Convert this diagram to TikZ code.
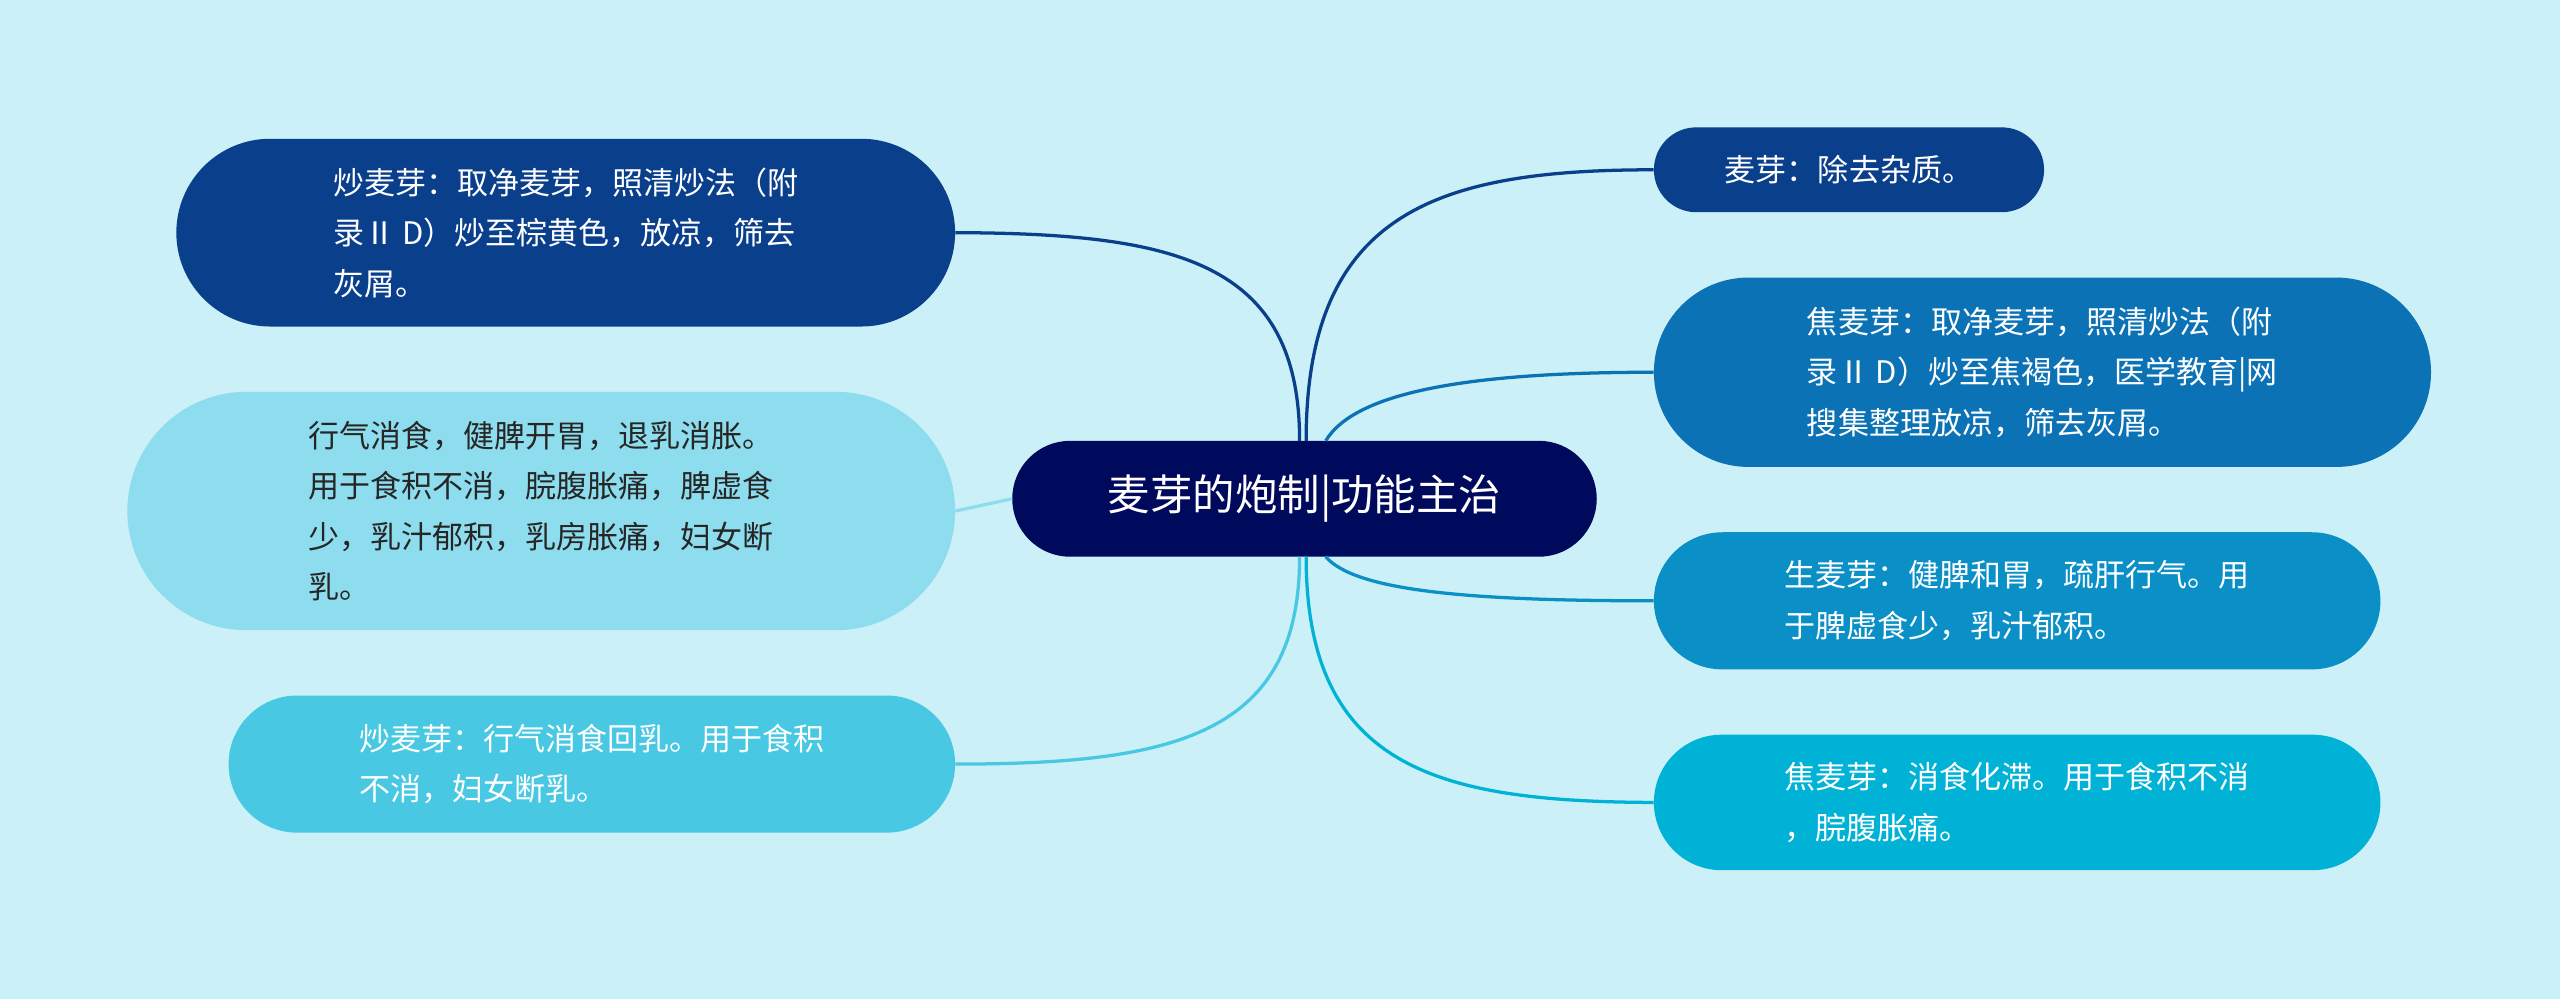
\documentclass[tikz,border=0pt]{standalone}
\usepackage{fontspec}
\setmainfont{Noto Sans CJK SC}
\usetikzlibrary{shapes.misc}
\definecolor{bg}{HTML}{CBF0F7}
\definecolor{cnavy}{HTML}{000A5C}
\definecolor{cdark}{HTML}{0A3F8C}
\definecolor{cmid}{HTML}{0B72B5}
\definecolor{cmid2}{HTML}{0A90C6}
\definecolor{ccyan}{HTML}{00B2D6}
\definecolor{clight}{HTML}{8EDDEE}
\definecolor{clight2}{HTML}{48C8E3}
\tikzset{
 pill/.style={rounded rectangle, inner sep=0pt, align=left, font=\fontsize{19pt}{31pt}\selectfont, text=white},
 link/.style={line width=2pt}
}
\begin{document}
\begin{tikzpicture}[x=1pt,y=-1pt]
\fill[bg] (0,0) rectangle (1568,612);
\useasboundingbox (0,0) rectangle (1568,612);
\node[pill, fill=cnavy, minimum width=358pt, minimum height=71pt, font=\fontsize{26pt}{30pt}\selectfont] (c) at (799,305.5) {麦芽的炮制|功能主治};
\node[pill, fill=cdark, minimum width=239pt, minimum height=52pt] (r1) at (1132.5,104) {麦芽：除去杂质。};
\node[pill, fill=cmid, minimum width=476pt, minimum height=116pt] (r2) at (1251,228) {焦麦芽：取净麦芽，照清炒法（附\\录Ⅱ D）炒至焦褐色，医学教育|网\\搜集整理放凉，筛去灰屑。};
\node[pill, fill=cmid2, minimum width=445pt, minimum height=84pt] (r3) at (1235.5,368) {生麦芽：健脾和胃，疏肝行气。用\\于脾虚食少，乳汁郁积。};
\node[pill, fill=ccyan, minimum width=445pt, minimum height=83pt] (r4) at (1235.5,491.5) {焦麦芽：消食化滞。用于食积不消\\，脘腹胀痛。};
\node[pill, fill=cdark, minimum width=477pt, minimum height=115pt] (l1) at (346.5,142.5) {炒麦芽：取净麦芽，照清炒法（附\\录Ⅱ D）炒至棕黄色，放凉，筛去\\灰屑。};
\node[pill, fill=clight, text=black!85, minimum width=507pt, minimum height=146pt] (l2) at (331.5,313) {行气消食，健脾开胃，退乳消胀。\\用于食积不消，脘腹胀痛，脾虚食\\少，乳汁郁积，乳房胀痛，妇女断\\乳。};
\node[pill, fill=clight2, minimum width=445pt, minimum height=84pt] (l3) at (362.5,468) {炒麦芽：行气消食回乳。用于食积\\不消，妇女断乳。};
\coordinate (ct1) at (800,270);
\coordinate (ct2) at (812,270);
\coordinate (cb1) at (800,341);
\coordinate (cb2) at (812,341);
\coordinate (ctl) at (796,270);
\coordinate (cbl) at (796,341);
\draw[link, cdark] (ct1) .. controls (800,130) and (880,104) .. (r1.west);
\draw[link, cmid] (ct2) .. controls (830,240) and (900,228) .. (r2.west);
\draw[link, cmid2] (cb2) .. controls (830,362) and (900,368) .. (r3.west);
\draw[link, ccyan] (cb1) .. controls (800,470) and (880,491) .. (r4.west);
\draw[link, cdark] (l1.east) .. controls (720,143) and (796,160) .. (ctl);
\draw[link, clight] (l2.east) -- (c.west);
\draw[link, clight2] (l3.east) .. controls (720,468) and (796,450) .. (cbl);
\end{tikzpicture}
\end{document}
